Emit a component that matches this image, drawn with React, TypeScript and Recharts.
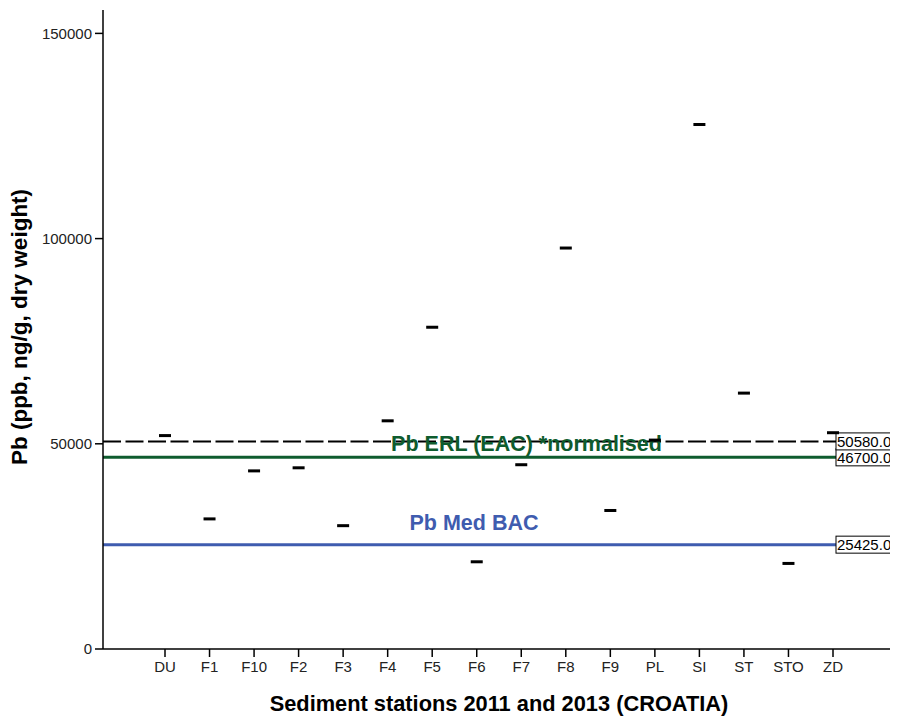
import React from 'react';
import { ComposedChart, Scatter, XAxis, YAxis, ReferenceLine } from 'recharts';

const stations = ['DU', 'F1', 'F10', 'F2', 'F3', 'F4', 'F5', 'F6', 'F7', 'F8', 'F9', 'PL', 'SI', 'ST', 'STO', 'ZD'];
const pbValues = [52000, 31700, 43400, 44150, 30050, 55600, 78400, 21250, 44900, 97700, 33750, 50900, 127800, 62350, 20850, 52700];
const yTicks = [0, 50000, 100000, 150000];
const erlValue = 50580;
const eacValue = 46700;
const bacValue = 25425;

const data = stations.map((s, i) => ({ station: s, pb: pbValues[i] }));

const FONT = 'Arial, "Liberation Sans", Helvetica, sans-serif';
const GREEN = '#0e5c2e';
const BLUE = '#3f5caf';

const Marker = (props: any) => {
  const { cx, cy } = props;
  if (cx == null || cy == null) return null;
  return <rect x={cx - 6} y={cy - 1.5} width={12} height={3} fill="#000" />;
};

const boxLabel = (text: string) => (props: any) => {
  const vb = props.viewBox || {};
  const right = vb.x + vb.width;
  const y = vb.y;
  return (
    <g>
      <rect x={right - 58} y={y - 8.5} width={58} height={17} fill="#fff" stroke="#000" strokeWidth={1} />
      <text x={right - 57} y={y + 5.5} fontSize={15} fontFamily={FONT} fill="#000">{text}</text>
    </g>
  );
};

export default function App() {
  return (
    <div style={{ width: 890, height: 711 }}>
      <ComposedChart width={890} height={711} data={data} margin={{ top: 2, right: 4, left: 10, bottom: 40 }}>
        <XAxis
          dataKey="station"
          type="category"
          xAxisId="b"
          padding={{ left: 62, right: 61 }}
          height={30}
          tickSize={8}
          tickMargin={4}
          stroke="#000"
          strokeWidth={1.5}
          tickLine={{ stroke: '#000', strokeWidth: 1.5 }}
          tick={{ fill: '#222', fontSize: 15, fontFamily: FONT }}
          interval={0}
        />
        <XAxis xAxisId="t" orientation="top" height={0} tick={false} tickLine={false} stroke="#000" strokeWidth={1.5} dataKey="station" />
        <YAxis
          yAxisId="l"
          type="number"
          domain={[0, 155700]}
          ticks={yTicks}
          width={85}
          tickSize={8}
          tickMargin={3}
          stroke="#000"
          strokeWidth={1.5}
          tickLine={{ stroke: '#000', strokeWidth: 1.5 }}
          tick={{ fill: '#222', fontSize: 15, fontFamily: FONT }}
          allowDataOverflow
        />
        <YAxis yAxisId="r" orientation="right" width={0} tick={false} tickLine={false} stroke="#000" strokeWidth={1.5} domain={[0, 155700]} />
        <ReferenceLine
          xAxisId="b"
          yAxisId="l"
          y={bacValue}
          stroke={BLUE}
          strokeWidth={3}
          label={boxLabel('25425.0')}
        />
        <ReferenceLine
          xAxisId="b"
          yAxisId="l"
          y={eacValue}
          stroke={GREEN}
          strokeWidth={3}
          label={boxLabel('46700.0')}
        />
        <ReferenceLine
          xAxisId="b"
          yAxisId="l"
          y={erlValue}
          stroke="#000"
          strokeWidth={2}
          strokeDasharray="18 4.5"
          label={boxLabel('50580.0')}
        />
        <Scatter xAxisId="b" yAxisId="l" dataKey="pb" shape={<Marker />} isAnimationActive={false} />
        <ReferenceLine
          xAxisId="b"
          yAxisId="l"
          y={eacValue}
          stroke="none"
          label={(p: any) => (
            <text x={518.5} y={p.viewBox.y - 6} textAnchor="middle" fontSize={21.5} fontWeight="bold" fontFamily={FONT} fill={GREEN}>
              Pb ERL (EAC) *normalised
            </text>
          )}
        />
        <ReferenceLine
          xAxisId="b"
          yAxisId="l"
          y={bacValue}
          stroke="none"
          label={(p: any) => (
            <text x={466} y={p.viewBox.y - 15} textAnchor="middle" fontSize={21.5} fontWeight="bold" fontFamily={FONT} fill={BLUE}>
              Pb Med BAC
            </text>
          )}
        />
        <text x={491} y={703} textAnchor="middle" fontSize={21.8} fontWeight="bold" fontFamily={FONT} fill="#000">
          Sediment stations 2011 and 2013 (CROATIA)
        </text>
        <text x={0} y={0} transform="translate(19,319) rotate(-90)" textAnchor="middle" fontSize={22.5} fontWeight="bold" fontFamily={FONT} fill="#000">
          Pb (ppb, ng/g, dry weight)
        </text>
      </ComposedChart>
    </div>
  );
}
